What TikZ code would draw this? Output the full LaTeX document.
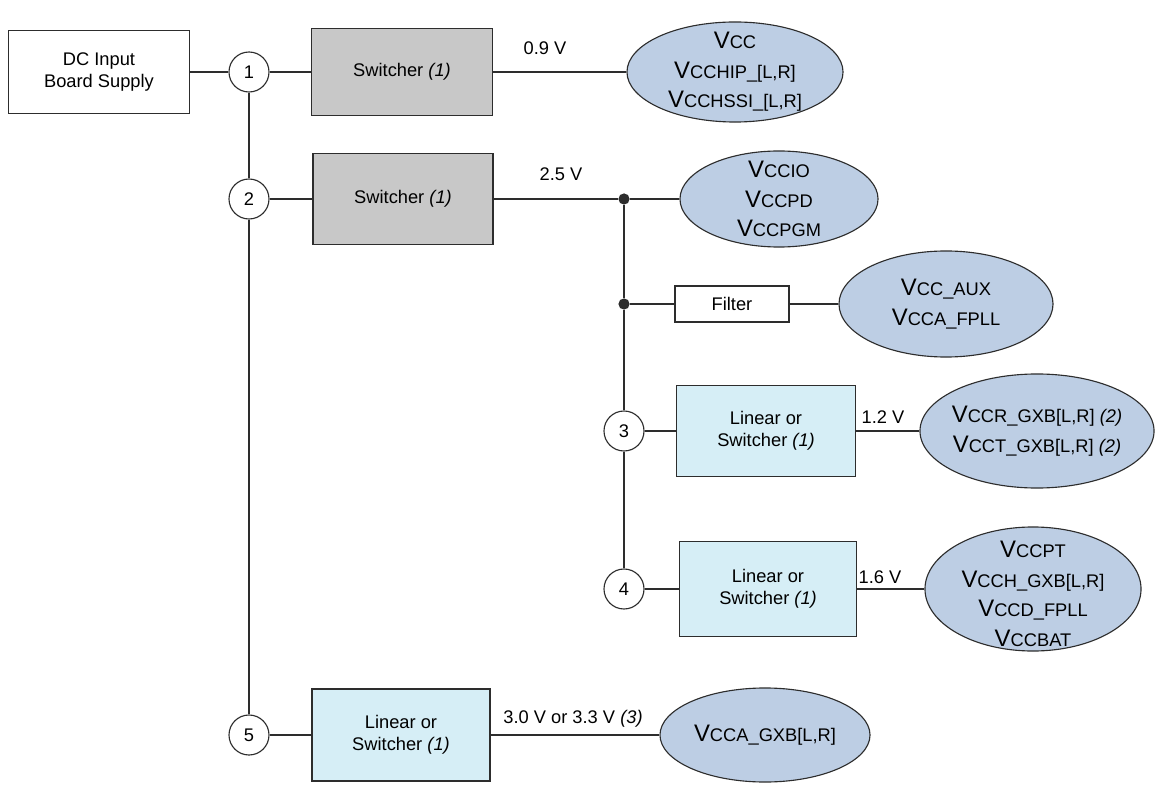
\documentclass[tikz,border=0pt]{standalone}
\usepackage{fontspec}
\setmainfont{Liberation Sans}
\usetikzlibrary{shapes.geometric}

\definecolor{wirecol}{RGB}{45,45,45}
\definecolor{swgray}{RGB}{200,200,200}
\definecolor{linblue}{RGB}{214,238,246}
\definecolor{railblue}{RGB}{189,206,228}

% supply rail name: big V, rest in smaller capitals
\newcommand\vrail[1]{{\fontsize{17}{21}\selectfont V}{\fontsize{13}{21}\selectfont #1}}

\begin{document}
\begin{tikzpicture}[
  x=0.025cm, y=-0.025cm,
  font=\fontsize{13}{16}\selectfont,
  wire/.style={line width=0.8pt,draw=wirecol},
  blk/.style={rectangle,draw=wirecol,line width=0.8pt,inner sep=0pt,align=center,fill=white},
  swbox/.style={blk,fill=swgray},
  linbox/.style={blk,fill=linblue},
  num/.style={circle,draw=wirecol,line width=0.8pt,fill=white,minimum size=1cm,inner sep=0pt},
  rail/.style={ellipse,draw=wirecol,line width=0.8pt,fill=railblue,inner sep=0pt},
  railtxt/.style={align=center,inner sep=0pt,font=\fontsize{13}{21}\selectfont},
  volt/.style={inner sep=1pt},
  dot/.style={circle,fill=wirecol,inner sep=0pt,minimum size=0.28cm}
]
\useasboundingbox (0,0) rectangle (1156,793);

% ---- input and numbered taps ----
\node[blk,minimum width=4.525cm,minimum height=2.075cm] (dc) at (99,72) {DC Input\\ Board Supply};
\node[num] (c1) at (249,72) {1};
\node[num] (c2) at (249,199) {2};
\node[num] (c3) at (624,431) {3};
\node[num] (c4) at (624,589) {4};
\node[num] (c5) at (249,735) {5};

% ---- regulators ----
\node[swbox,minimum width=4.525cm,minimum height=2.175cm] (sw1) at (402,72) {Switcher \textit{(1)}};
\node[swbox,minimum width=4.5cm,minimum height=2.275cm] (sw2) at (403,199) {Switcher \textit{(1)}};
\node[blk,minimum width=2.85cm,minimum height=0.9cm] (filt) at (732,304) {Filter};
\node[linbox,minimum width=4.475cm,minimum height=2.275cm] (lin3) at (766,431) {Linear or\\ Switcher \textit{(1)}};
\node[linbox,minimum width=4.425cm,minimum height=2.375cm] (lin4) at (768,589) {Linear or\\ Switcher \textit{(1)}};
\node[linbox,minimum width=4.45cm,minimum height=2.3cm] (lin5) at (401,735) {Linear or\\ Switcher \textit{(1)}};

% ---- supply rails ----
\node[rail,minimum width=5.4cm,minimum height=2.5cm] (e1) at (735,72) {};
\node[railtxt] (e1t) at (e1) {\vrail{CC}\\ \vrail{CCHIP\_[L,R]}\\ \vrail{CCHSSI\_[L,R]}};
\node[rail,minimum width=4.95cm,minimum height=2.4cm] (e2) at (779,199) {};
\node[railtxt] (e2t) at (e2) {\vrail{CCIO}\\ \vrail{CCPD}\\ \vrail{CCPGM}};
\node[rail,minimum width=5.35cm,minimum height=2.65cm] (e3) at (946,304) {};
\node[railtxt] (e3t) at (e3) {\vrail{CC\_AUX}\\ \vrail{CCA\_FPLL}};
\node[rail,minimum width=5.85cm,minimum height=2.85cm] (e4) at (1037,431) {};
\node[railtxt] (e4t) at (e4) {\vrail{CCR\_GXB[L,R]} \textit{(2)}\\ \vrail{CCT\_GXB[L,R]} \textit{(2)}};
\node[rail,minimum width=5.4cm,minimum height=3.1cm] (e5) at (1033,589) {};
\node[railtxt] (e5t) at (1033,594) {\vrail{CCPT}\\ \vrail{CCH\_GXB[L,R]}\\ \vrail{CCD\_FPLL}\\ \vrail{CCBAT}};
\node[rail,minimum width=5.25cm,minimum height=2.35cm] (e6) at (765,735) {};
\node[railtxt] (e6t) at (e6) {\vrail{CCA\_GXB[L,R]}};

% ---- junctions ----
\node[dot] (j1) at (624,199) {};
\node[dot] (j2) at (624,304) {};

% ---- wiring ----
\draw[wire] (dc) -- (c1) -- (sw1) -- (e1);
\draw[wire] (c1) -- (c2) -- (c5);
\draw[wire] (c2) -- (sw2) -- (j1) -- (e2);
\draw[wire] (j1) -- (j2) -- (c3) -- (c4);
\draw[wire] (j2) -- (filt) -- (e3);
\draw[wire] (c3) -- (lin3) -- (e4);
\draw[wire] (c4) -- (lin4) -- (e5);
\draw[wire] (c5) -- (lin5) -- (e6);

% ---- voltages ----
\node[volt] (v1) at (545,48) {0.9 V};
\node[volt] (v2) at (561,174) {2.5 V};
\node[volt] (v3) at (883,417) {1.2 V};
\node[volt] (v4) at (880,577) {1.6 V};
\node[volt] (v5) at (573,719) {3.0 V or 3.3 V \textit{(3)}};

\end{tikzpicture}
\end{document}
